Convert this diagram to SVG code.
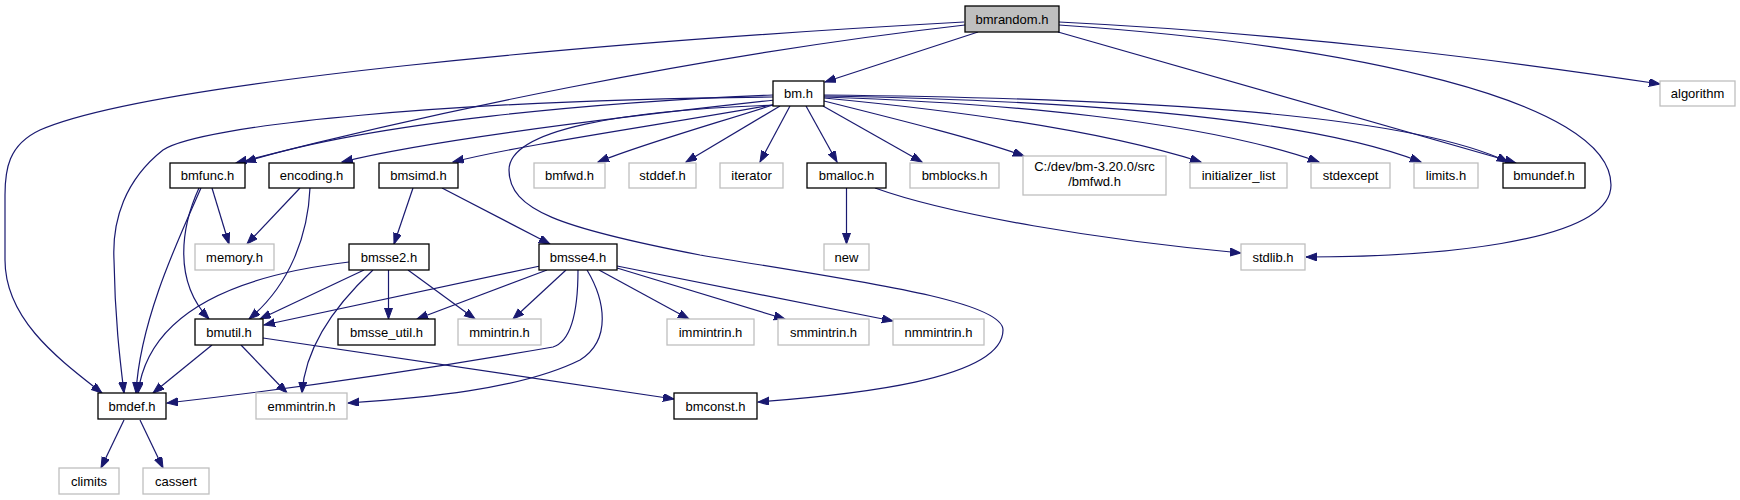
<svg xmlns="http://www.w3.org/2000/svg" width="1740" height="500" viewBox="0 0 1740 500">
<style>
.n rect{fill:#fff;stroke:#000;stroke-width:1.3}
.g rect{fill:#fff;stroke:#bfbfbf;stroke-width:1.3}
.r rect{fill:#bfbfbf;stroke:#000;stroke-width:1.3}
text{font-family:"Liberation Sans",Arial,sans-serif;font-size:13px;fill:#000;text-anchor:middle}
.e path{fill:none;stroke:#191970;stroke-width:1.2;marker-end:url(#a)}
</style>
<defs>
<marker id="a" markerUnits="userSpaceOnUse" markerWidth="12" markerHeight="9" refX="11" refY="4" orient="auto"><path d="M0,0 L11,4 L0,8 z" fill="#191970" stroke="#191970" stroke-width="1"/></marker>
</defs>
<rect width="1740" height="500" fill="#fff"/>
<g class="e" id="edges">
<path d="M978,32 L825,82"/>
<path d="M965,25 C 700,55 420,115 236,163"/>
<path d="M964,22 C 600,42 150,82 40,130 C 8,145 5,170 5,195 L5,260 C 5,320 60,360 102,393"/>
<path d="M1059,22 C 1300,34 1500,60 1660,84"/>
<path d="M1059,25 C 1350,45 1611,100 1611,185 C 1611,245 1420,257 1306,257"/>
<path d="M1058,32 L1516,163"/>
<path d="M773,95 C 600,102 370,122 245,162"/>
<path d="M773,97 C 450,100 200,125 163,150 C 125,180 112,220 114,260 C 115,320 120,360 124,393"/>
<path d="M775,100 C 610,118 430,140 342,162"/>
<path d="M778,104 C 660,125 520,145 453,162"/>
<path d="M776,104 C 700,128 640,145 598,162"/>
<path d="M780,106 L686,162"/>
<path d="M790,106 L760,162"/>
<path d="M806,106 L837,162"/>
<path d="M823,106 L922,162"/>
<path d="M824,101 C 900,120 980,140 1024,156"/>
<path d="M824,98 C 950,110 1100,130 1201,162"/>
<path d="M824,97 C 1000,103 1200,120 1319,162"/>
<path d="M824,96 C 1050,100 1300,115 1421,162"/>
<path d="M824,95 C 1100,98 1400,110 1508,162"/>
<path d="M778,105 C 620,110 509,130 509,170 C 509,210 560,228 700,255 C 850,280 1003,300 1003,330 C 1003,380 850,395 758,402"/>
<path d="M846.5,188 L846.5,244"/>
<path d="M875,188 C 950,215 1100,240 1241,253"/>
<path d="M212,188 L229,244"/>
<path d="M199,188 C 182,225 172,280 209,319"/>
<path d="M201,188 C 178,240 140,320 136,393"/>
<path d="M300,188 L247,244"/>
<path d="M310,188 C 308,235 290,285 249,319"/>
<path d="M413,188 L394,244"/>
<path d="M442,188 L550,244"/>
<path d="M349,262 C 265,272 150,300 138,393"/>
<path d="M364,270 L260,319"/>
<path d="M373,270 C 330,310 305,350 302,393"/>
<path d="M388.5,270 L388.5,319"/>
<path d="M408,270 L475,319"/>
<path d="M540,266 L264,325"/>
<path d="M547,270 L417,319"/>
<path d="M566,270 L513,319"/>
<path d="M578,270 C 578,300 575,340 553,347 C 450,365 300,388 167,403"/>
<path d="M587,270 C 605,300 612,340 580,360 C 520,390 420,398 348,403"/>
<path d="M599,270 L689,319"/>
<path d="M617,268 L785,319"/>
<path d="M617,266 L893,321"/>
<path d="M212,345 L153,393"/>
<path d="M241,345 L287,393"/>
<path d="M263,338 L674,399"/>
<path d="M124,420 L101,468"/>
<path d="M140,420 L163,468"/>
</g>
<g id="bmrandom" class="r"><rect x="965" y="6" width="94" height="26"/><text x="1012" y="24">bmrandom.h</text></g>
<g id="algorithm" class="g"><rect x="1660" y="81" width="75" height="25"/><text x="1697.5" y="98">algorithm</text></g>
<g id="bm" class="n"><rect x="773" y="81" width="51" height="25"/><text x="798.5" y="98">bm.h</text></g>
<g id="bmfunc" class="n"><rect x="170" y="163" width="75" height="25"/><text x="207.5" y="180">bmfunc.h</text></g>
<g id="encoding" class="n"><rect x="269" y="163" width="85" height="25"/><text x="311.5" y="180">encoding.h</text></g>
<g id="bmsimd" class="n"><rect x="379" y="163" width="79" height="25"/><text x="418.5" y="180">bmsimd.h</text></g>
<g id="bmfwd" class="g"><rect x="534" y="163" width="71" height="25"/><text x="569.5" y="180">bmfwd.h</text></g>
<g id="stddef" class="g"><rect x="629" y="163" width="67" height="25"/><text x="662.5" y="180">stddef.h</text></g>
<g id="iterator" class="g"><rect x="720" y="163" width="63" height="25"/><text x="751.5" y="180">iterator</text></g>
<g id="bmalloc" class="n"><rect x="807" y="163" width="79" height="25"/><text x="846.5" y="180">bmalloc.h</text></g>
<g id="bmblocks" class="g"><rect x="910" y="163" width="89" height="25"/><text x="954.5" y="180">bmblocks.h</text></g>
<g id="bmfwd2" class="g"><rect x="1023" y="156" width="143" height="39"/><text x="1094.5" y="171">C:/dev/bm-3.20.0/src</text><text x="1094.5" y="186">/bmfwd.h</text></g>
<g id="initializer_list" class="g"><rect x="1190" y="163" width="97" height="25"/><text x="1238.5" y="180">initializer_list</text></g>
<g id="stdexcept" class="g"><rect x="1311" y="163" width="79" height="25"/><text x="1350.5" y="180">stdexcept</text></g>
<g id="limits" class="g"><rect x="1414" y="163" width="64" height="25"/><text x="1446" y="180">limits.h</text></g>
<g id="bmundef" class="n"><rect x="1503" y="163" width="82" height="25"/><text x="1544" y="180">bmundef.h</text></g>
<g id="memory" class="g"><rect x="195" y="244" width="79" height="26"/><text x="234.5" y="262">memory.h</text></g>
<g id="bmsse2" class="n"><rect x="349" y="244" width="80" height="26"/><text x="389" y="262">bmsse2.h</text></g>
<g id="bmsse4" class="n"><rect x="539" y="244" width="78" height="26"/><text x="578" y="262">bmsse4.h</text></g>
<g id="new" class="g"><rect x="824" y="244" width="45" height="26"/><text x="846.5" y="262">new</text></g>
<g id="stdlib" class="g"><rect x="1241" y="244" width="64" height="26"/><text x="1273" y="262">stdlib.h</text></g>
<g id="bmutil" class="n"><rect x="195" y="319" width="68" height="26"/><text x="229" y="337">bmutil.h</text></g>
<g id="bmsse_util" class="n"><rect x="338" y="319" width="97" height="26"/><text x="386.5" y="337">bmsse_util.h</text></g>
<g id="mmintrin" class="g"><rect x="458" y="319" width="83" height="26"/><text x="499.5" y="337">mmintrin.h</text></g>
<g id="immintrin" class="g"><rect x="667" y="319" width="87" height="26"/><text x="710.5" y="337">immintrin.h</text></g>
<g id="smmintrin" class="g"><rect x="778" y="319" width="91" height="26"/><text x="823.5" y="337">smmintrin.h</text></g>
<g id="nmmintrin" class="g"><rect x="893" y="319" width="91" height="26"/><text x="938.5" y="337">nmmintrin.h</text></g>
<g id="bmdef" class="n"><rect x="98" y="393" width="68" height="26"/><text x="132" y="411">bmdef.h</text></g>
<g id="emmintrin" class="g"><rect x="256" y="393" width="91" height="26"/><text x="301.5" y="411">emmintrin.h</text></g>
<g id="bmconst" class="n"><rect x="674" y="393" width="83" height="26"/><text x="715.5" y="411">bmconst.h</text></g>
<g id="climits" class="g"><rect x="59" y="468" width="60" height="26"/><text x="89" y="486">climits</text></g>
<g id="cassert" class="g"><rect x="143" y="468" width="66" height="26"/><text x="176" y="486">cassert</text></g>
</svg>
